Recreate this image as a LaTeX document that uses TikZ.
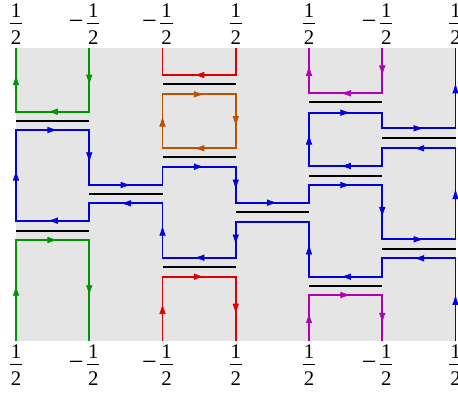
\documentclass[tikz,border=0pt]{standalone}
\usepackage{fontspec}
\setmainfont{Liberation Serif}
\usetikzlibrary{arrows.meta,decorations.markings}
\definecolor{cblue}{RGB}{0,0,225}
\definecolor{cgreen}{RGB}{0,150,0}
\definecolor{cred}{RGB}{225,0,0}
\definecolor{corange}{RGB}{190,80,0}
\definecolor{cmag}{RGB}{180,0,180}
\definecolor{cbg}{RGB}{229,229,229}
\tikzset{
  wire/.style={line width=0.95pt, line join=miter},
  blackbar/.style={line width=1pt, black},
  am/.style={postaction={decorate}, decoration={markings, mark=at position 0.5 with {\pgftransformxshift{2.6pt}\arrow{Latex[length=5.2pt,width=3.3pt]}}}},
  lab/.style={inner sep=0pt, font=\fontsize{10.4}{12}\selectfont},
  minuslab/.style={inner sep=0pt, font=\fontsize{13}{15}\selectfont},
}
\newcommand{\ar}[3]{\path[color=#1,am] #2 -- #3;}
\newcommand{\poslab}[3]{%
  \draw[line width=0.5pt] (#1-6.15,#2) -- (#1+6.15,#2);
  \node[lab,anchor=base] (#3n) at (#1,#2-6) {1};
  \node[lab,anchor=base] (#3d) at (#1,#2+21) {2};}
\newcommand{\neglab}[3]{%
  \poslab{#1+4}{#2}{#3}
  \node[minuslab,anchor=base] (#3m) at (#1+4-17,#2+6.2) {−};}
\def\XA{16}
\def\XB{89.25}
\def\XC{162.5}
\def\XD{235.75}
\def\XE{309}
\def\XF{382.25}
\def\XG{455.5}
\begin{document}
\begin{tikzpicture}[x=0.5pt,y=-0.5pt]
\useasboundingbox (0,0) rectangle (458,395);
\fill[cbg] (16,48) rectangle (456,341);

% labels
\poslab{\XA}{23.3}{tA}
\neglab{\XB}{23.3}{tB}
\neglab{\XC}{23.3}{tC}
\poslab{\XD}{23.3}{tD}
\poslab{\XE}{23.3}{tE}
\neglab{\XF}{23.3}{tF}
\poslab{\XG}{23.3}{tG}
\poslab{\XA}{364.3}{bA}
\neglab{\XB}{364.3}{bB}
\neglab{\XC}{364.3}{bC}
\poslab{\XD}{364.3}{bD}
\poslab{\XE}{364.3}{bE}
\neglab{\XF}{364.3}{bF}
\poslab{\XG}{364.3}{bG}

% black bars
\draw[blackbar] (\XA,120.7) -- (\XB,120.7);
\draw[blackbar] (\XA,230.7) -- (\XB,230.7);
\draw[blackbar] (\XB,194) -- (\XC,194);
\draw[blackbar] (\XC,84.3) -- (\XD,84.3);
\draw[blackbar] (\XC,157.3) -- (\XD,157.3);
\draw[blackbar] (\XC,266.7) -- (\XD,266.7);
\draw[blackbar] (\XD,212.3) -- (\XE,212.3);
\draw[blackbar] (\XE,102.3) -- (\XF,102.3);
\draw[blackbar] (\XE,175.7) -- (\XF,175.7);
\draw[blackbar] (\XE,285.7) -- (\XF,285.7);
\draw[blackbar] (\XF,137.7) -- (\XG,137.7);
\draw[blackbar] (\XF,249) -- (\XG,249);

% green
\draw[wire,cgreen] (\XA,48) -- (\XA,111.7) -- (\XB,111.7) -- (\XB,48);
\ar{cgreen}{(\XA,111.7)}{(\XA,48)}
\ar{cgreen}{(\XB,111.7)}{(\XA,111.7)}
\ar{cgreen}{(\XB,48)}{(\XB,111.7)}
\draw[wire,cgreen] (\XA,341) -- (\XA,240) -- (\XB,240) -- (\XB,341);
\ar{cgreen}{(\XA,341)}{(\XA,240)}
\ar{cgreen}{(\XA,240)}{(\XB,240)}
\ar{cgreen}{(\XB,240)}{(\XB,341)}

% red
\draw[wire,cred] (\XC,48) -- (\XC,75) -- (\XD,75) -- (\XD,48);
\ar{cred}{(\XD,75)}{(\XC,75)}
\draw[wire,cred] (\XC,341) -- (\XC,276.7) -- (\XD,276.7) -- (\XD,341);
\ar{cred}{(\XC,341)}{(\XC,276.7)}
\ar{cred}{(\XC,276.7)}{(\XD,276.7)}
\ar{cred}{(\XD,276.7)}{(\XD,341)}

% orange loop
\draw[wire,corange] (\XC,94.3) rectangle (\XD,148.3);
\ar{corange}{(\XC,94.3)}{(\XD,94.3)}
\ar{corange}{(\XD,94.3)}{(\XD,148.3)}
\ar{corange}{(\XD,148.3)}{(\XC,148.3)}
\ar{corange}{(\XC,148.3)}{(\XC,94.3)}

% magenta
\draw[wire,cmag] (\XE,48) -- (\XE,93.3) -- (\XF,93.3) -- (\XF,48);
\ar{cmag}{(\XE,93.3)}{(\XE,48)}
\ar{cmag}{(\XF,93.3)}{(\XE,93.3)}
\ar{cmag}{(\XF,48)}{(\XF,93.3)}
\draw[wire,cmag] (\XE,341) -- (\XE,295) -- (\XF,295) -- (\XF,341);
\ar{cmag}{(\XE,341)}{(\XE,295)}
\ar{cmag}{(\XE,295)}{(\XF,295)}
\ar{cmag}{(\XF,295)}{(\XF,341)}

% blue
\draw[wire,cblue] (\XG,341) -- (\XG,258.3) -- (\XF,258.3) -- (\XF,276.7) -- (\XE,276.7) -- (\XE,221.7) -- (\XD,221.7) -- (\XD,257.7) -- (\XC,257.7) -- (\XC,203.3) -- (\XB,203.3) -- (\XB,220.7) -- (\XA,220.7) -- (\XA,130) -- (\XB,130) -- (\XB,185) -- (\XC,185) -- (\XC,166.7) -- (\XD,166.7) -- (\XD,202.7) -- (\XE,202.7) -- (\XE,185) -- (\XF,185) -- (\XF,239.3) -- (\XG,239.3) -- (\XG,148.3) -- (\XF,148.3) -- (\XF,166) -- (\XE,166) -- (\XE,112.7) -- (\XF,112.7) -- (\XF,128.3) -- (\XG,128.3) -- (\XG,48);
\ar{cblue}{(\XG,341)}{(\XG,258.3)}
\ar{cblue}{(\XG,258.3)}{(\XF,258.3)}
\ar{cblue}{(\XF,276.7)}{(\XE,276.7)}
\ar{cblue}{(\XE,276.7)}{(\XE,221.7)}
\ar{cblue}{(\XD,221.7)}{(\XD,257.7)}
\ar{cblue}{(\XD,257.7)}{(\XC,257.7)}
\ar{cblue}{(\XC,257.7)}{(\XC,203.3)}
\ar{cblue}{(\XC,203.3)}{(\XB,203.3)}
\ar{cblue}{(\XB,220.7)}{(\XA,220.7)}
\ar{cblue}{(\XA,220.7)}{(\XA,130)}
\ar{cblue}{(\XA,130)}{(\XB,130)}
\ar{cblue}{(\XB,130)}{(\XB,185)}
\ar{cblue}{(\XB,185)}{(\XC,185)}
\ar{cblue}{(\XC,166.7)}{(\XD,166.7)}
\ar{cblue}{(\XD,166.7)}{(\XD,202.7)}
\ar{cblue}{(\XD,202.7)}{(\XE,202.7)}
\ar{cblue}{(\XE,185)}{(\XF,185)}
\ar{cblue}{(\XF,185)}{(\XF,239.3)}
\ar{cblue}{(\XF,239.3)}{(\XG,239.3)}
\ar{cblue}{(\XG,239.3)}{(\XG,148.3)}
\ar{cblue}{(\XG,148.3)}{(\XF,148.3)}
\ar{cblue}{(\XF,166)}{(\XE,166)}
\ar{cblue}{(\XE,166)}{(\XE,112.7)}
\ar{cblue}{(\XE,112.7)}{(\XF,112.7)}
\ar{cblue}{(\XF,128.3)}{(\XG,128.3)}
\ar{cblue}{(\XG,128.3)}{(\XG,48)}
\end{tikzpicture}
\end{document}
